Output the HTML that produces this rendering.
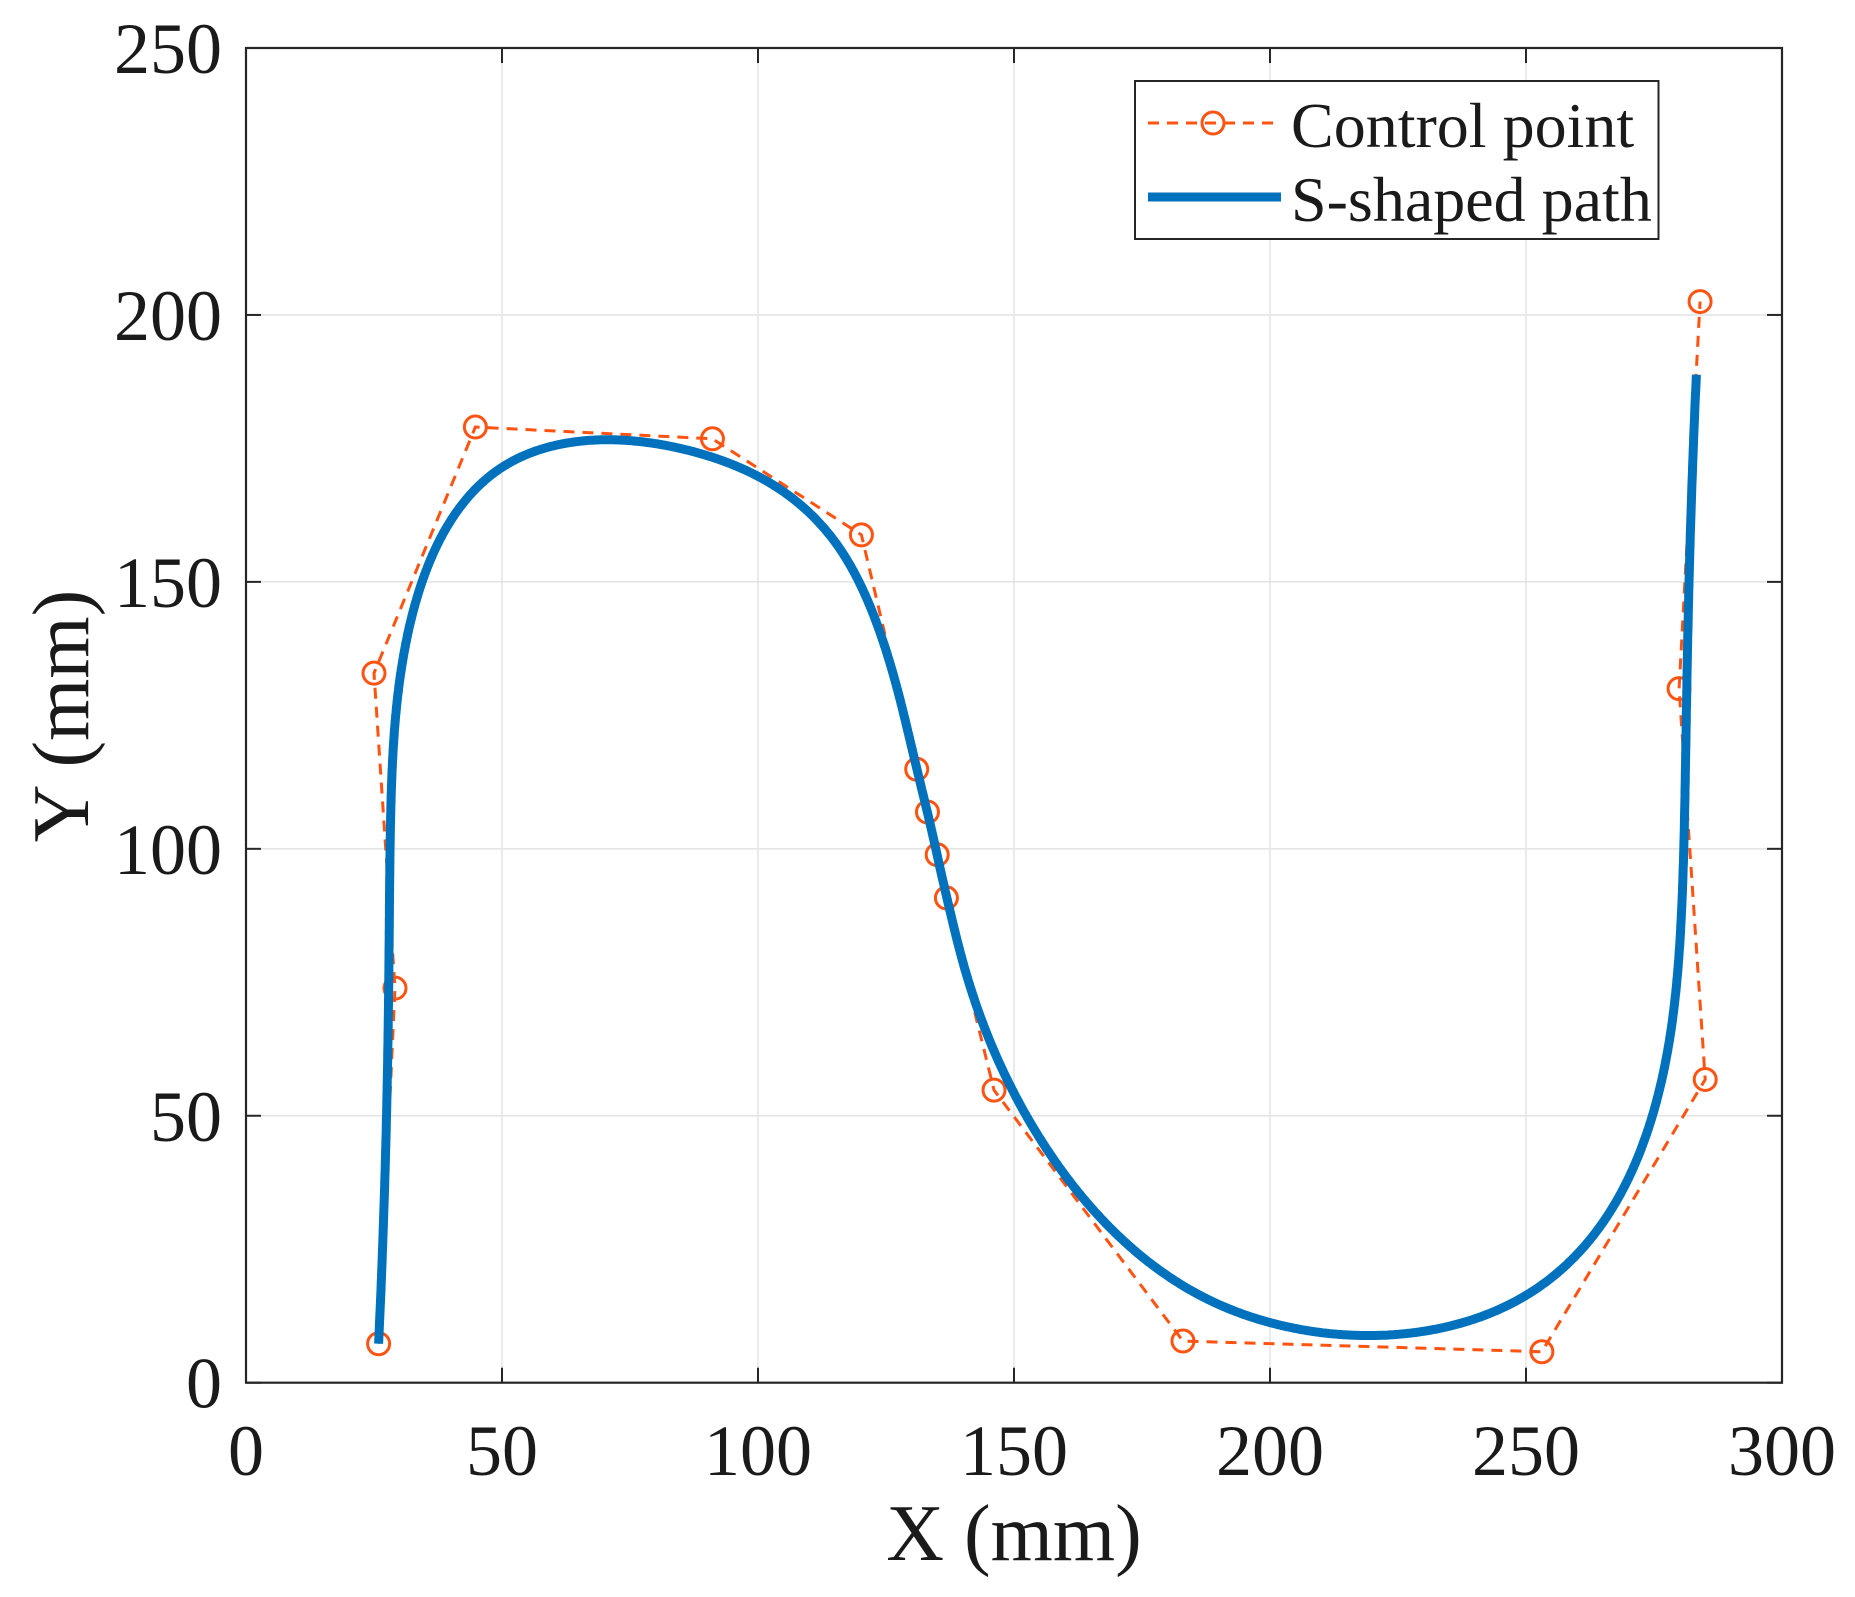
<!DOCTYPE html>
<html><head><meta charset="utf-8"><style>
html,body{margin:0;padding:0;background:#fff;}
svg{display:block;}
text{font-family:"Liberation Serif",serif;fill:#1a1a1a;}
</style></head><body>
<svg id="s" width="1855" height="1597" viewBox="0 0 1855 1597" xmlns="http://www.w3.org/2000/svg">
<g id="grid" stroke="#e3e3e3" stroke-width="1.5"></g>
<g id="ticks" stroke="#262626" stroke-width="2"></g>
<rect x="246" y="48" width="1536" height="1334.7" fill="none" stroke="#262626" stroke-width="2.2"/>
<g id="labels" font-size="72"></g>
<text x="1014" y="1560" font-size="80" text-anchor="middle">X (mm)</text>
<text transform="translate(88,716) rotate(-90)" font-size="80" text-anchor="middle">Y (mm)</text>
<g id="data"></g>
<g>
<rect x="1135" y="81" width="523.5" height="158" fill="#fff" stroke="#262626" stroke-width="2"/>
<line x1="1148" y1="123" x2="1281" y2="123" stroke="#FF5311" stroke-width="3" stroke-dasharray="11,8"/>
<circle cx="1213" cy="123" r="11" fill="none" stroke="#FF5311" stroke-width="3"/>
<line x1="1148" y1="197" x2="1281" y2="197" stroke="#0072BD" stroke-width="9"/>
<text x="1291" y="147" font-size="64">Control point</text>
<text x="1291" y="221" font-size="64">S-shaped path</text>
</g>
</svg>
<script>
var L=246,R=1782,T=48,B=1382.7;
function X(x){return L+(x/300)*(R-L);}
function Y(y){return B-(y/250)*(B-T);}
var ns="http://www.w3.org/2000/svg";
function el(p,n,a,t){var e=document.createElementNS(ns,n);for(var k in a)e.setAttribute(k,a[k]);if(t!==undefined)e.textContent=t;document.getElementById(p).appendChild(e);return e;}
for(var i=1;i<6;i++){var x=X(i*50);el('grid','line',{x1:x,y1:T,x2:x,y2:B});}
for(var i=1;i<5;i++){var y=Y(i*50);el('grid','line',{x1:L,y1:y,x2:R,y2:y});}
for(var i=0;i<=6;i++){var x=X(i*50);el('ticks','line',{x1:x,y1:B,x2:x,y2:B-15});el('ticks','line',{x1:x,y1:T,x2:x,y2:T+15});
 el('labels','text',{x:x,y:1475,'text-anchor':'middle'},String(i*50));}
for(var i=0;i<=5;i++){var y=Y(i*50);el('ticks','line',{x1:L,y1:y,x2:L+15,y2:y});el('ticks','line',{x1:R,y1:y,x2:R-15,y2:y});
 el('labels','text',{x:222,y:y+25,'text-anchor':'end'},String(i*50));}
var P=[[25.9,7.3],[29.1,73.9],[25.0,132.9],[44.8,179.0],[91.1,176.8],[120.2,158.8],[131.0,114.9],[133.1,106.9],[135.0,98.9],[136.8,90.8],[146.1,54.8],[183.0,7.8],[253.1,5.8],[285.0,56.8],[279.9,130.0],[284.0,202.5]];
var n=P.length,k=3,knots=[];
for(var i=0;i<=k;i++)knots.push(0);
var inner=n-k-1;for(var i=1;i<=inner;i++)knots.push(i/(inner+1));
for(var i=0;i<=k;i++)knots.push(1);
function deBoor(t){
 var s=k;while(s<n-1&&!(t>=knots[s]&&t<knots[s+1]))s++;
 if(t>=1)s=n-1;
 var d=[];for(var j=0;j<=k;j++)d.push(P[j+s-k].slice());
 for(var r=1;r<=k;r++)for(var j=k;j>=r;j--){var i=j+s-k;var a=(t-knots[i])/(knots[i+k+1-r]-knots[i]);
  d[j]=[(1-a)*d[j-1][0]+a*d[j][0],(1-a)*d[j-1][1]+a*d[j][1]];}
 return d[k];}
var pts=[];
for(var i=0;i<=2000;i++){var t=i/2000;var p=deBoor(t);if(p[0]>270&&p[1]>189)break;pts.push(X(p[0]).toFixed(1)+','+Y(p[1]).toFixed(1));}
el('data','polyline',{points:P.map(function(p){return X(p[0])+','+Y(p[1]);}).join(' '),fill:'none',stroke:'#FF5311','stroke-width':3,'stroke-dasharray':'11,8'});
P.forEach(function(p){el('data','circle',{cx:X(p[0]),cy:Y(p[1]),r:11,fill:'none',stroke:'#FF5311','stroke-width':3});});
el('data','polyline',{points:pts.join(' '),fill:'none',stroke:'#0072BD','stroke-width':9,'stroke-linejoin':'round','stroke-linecap':'butt'});
</script>
</body></html>
